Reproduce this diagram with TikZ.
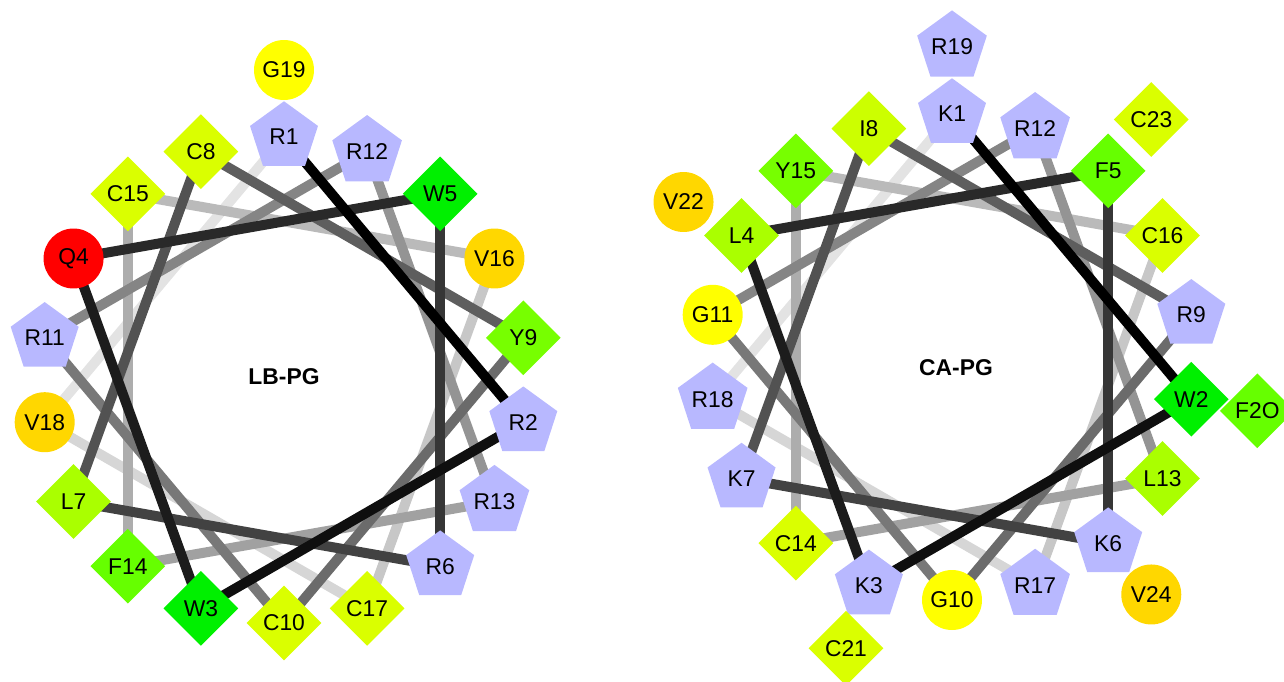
\documentclass[tikz,border=0pt]{standalone}
\usepackage{fontspec}
\setmainfont{Liberation Sans}
\usetikzlibrary{shapes.geometric,backgrounds}
\definecolor{argc}{RGB}{184,184,255}
\definecolor{cysc}{RGB}{218,255,0}
\definecolor{ilec}{RGB}{204,255,0}
\definecolor{leuc}{RGB}{170,255,0}
\definecolor{tyrc}{RGB}{119,255,0}
\definecolor{phec}{RGB}{102,255,0}
\definecolor{trpc}{RGB}{0,240,0}
\definecolor{valc}{RGB}{255,215,0}
\definecolor{glyc}{RGB}{255,255,0}
\definecolor{glnc}{RGB}{255,0,0}
\tikzset{
  res/.style={inner sep=0pt, font=\fontsize{13}{15}\selectfont},
  pent/.style={res, regular polygon, regular polygon sides=5, minimum size=1.43cm, fill=argc},
  diam/.style={res, diamond, minimum size=1.5cm, fill=#1},
  ball/.style={res, circle, minimum size=1.2cm, fill=#1},
  resR/.style={pent}, resK/.style={pent},
  resC/.style={diam=cysc}, resI/.style={diam=ilec}, resL/.style={diam=leuc},
  resY/.style={diam=tyrc}, resF/.style={diam=phec}, resW/.style={diam=trpc},
  resV/.style={ball=valc}, resG/.style={ball=glyc}, resQ/.style={ball=glnc},
  link/.style={line width=0.2cm},
  wheelname/.style={font=\fontsize{13}{15}\selectfont\bfseries},
}
\begin{document}
\begin{tikzpicture}[x=0.02cm, y=0.02cm]
  \useasboundingbox (0,0) rectangle (1284,681);
  % LB-PG
  \begin{scope}[shift={(284,301)}]
    \foreach \amino/\lab [count=\k] in {R/R1,R/R2,W/W3,Q/Q4,W/W5,R/R6,L/L7,C/C8,Y/Y9,C/C10,
        R/R11,R/R12,R/R13,F/F14,C/C15,V/V16,C/C17,V/V18,G/G19} {
      \pgfmathsetmacro{\rad}{\k<19 ? 243 : 310}
      \node[res\amino] (lb\k) at ({90-100*(\k-1)}:\rad) {\lab};
    }
    \node[wheelname] (lbname) at (0,3) {LB-PG};
    \begin{scope}[on background layer]
      \foreach \i in {18,...,1} {
        \pgfmathtruncatemacro{\j}{mod(\i,18)+1}
        \pgfmathtruncatemacro{\s}{100-5.2*(\i-1)}
        \draw[link, draw=black!\s] (lb\i.center) -- (lb\j.center);
      }
    \end{scope}
  \end{scope}
  % CA-PG
  \begin{scope}[shift={(952,324)}]
    \foreach \amino/\lab [count=\k] in {K/K1,W/W2,K/K3,L/L4,F/F5,K/K6,K/K7,I/I8,R/R9,G/G10,
        G/G11,R/R12,L/L13,C/C14,Y/Y15,C/C16,R/R17,R/R18,R/R19,F/F2O,C/C21,V/V22,C/C23,V/V24} {
      \pgfmathsetmacro{\rad}{\k<19 ? 243 : 310}
      \node[res\amino] (ca\k) at ({90-100*(\k-1)}:\rad) {\lab};
    }
    \node[wheelname] (caname) at (4,-11) {CA-PG};
    \begin{scope}[on background layer]
      \foreach \i in {18,...,1} {
        \pgfmathtruncatemacro{\j}{mod(\i,18)+1}
        \pgfmathtruncatemacro{\s}{100-5.2*(\i-1)}
        \draw[link, draw=black!\s] (ca\i.center) -- (ca\j.center);
      }
    \end{scope}
  \end{scope}
\end{tikzpicture}
\end{document}
